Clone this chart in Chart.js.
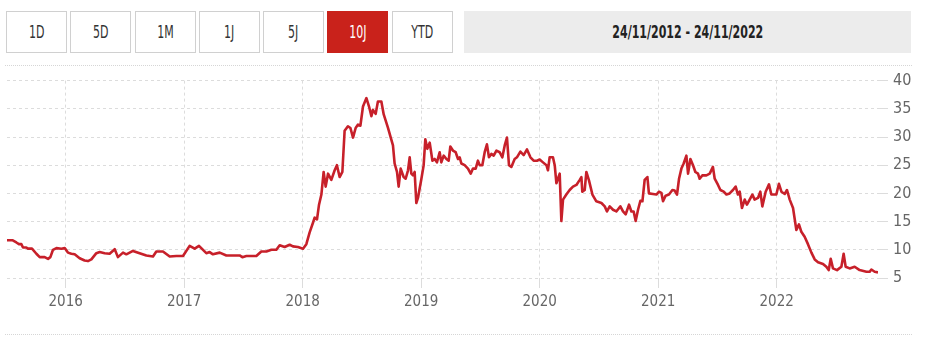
<!DOCTYPE html>
<html><head><meta charset="utf-8">
<script src="https://cdn.jsdelivr.net/npm/chart.js@4.4.0/dist/chart.umd.min.js"></script>
<style>
html,body{margin:0;padding:0;background:#fff;width:934px;height:356px;overflow:hidden;font-family:"Liberation Sans Narrow","DejaVu Sans Condensed","Roboto",sans-serif;}
.btn{position:absolute;top:11px;height:40px;width:59px;border:1px solid #d0d0d0;background:#fff;color:#333;font-size:17px;line-height:40px;text-align:center;}
.btn.on{background:#c9221b;border-color:#c9221b;color:#fff;}
.btn span,.range span{display:inline-block;transform:scaleX(0.72);}
.range{position:absolute;left:464px;top:11px;width:447px;height:42px;background:#ececec;color:#222;font-size:17px;font-weight:bold;line-height:42px;text-align:center;}
.sep{position:absolute;left:5px;width:907px;height:0;border-top:1px dotted #d6d6d6;}
#wrap{position:absolute;left:0;top:66px;width:934px;height:270px;}
</style></head>
<body>
<div class="btn" style="left:6px"><span>1D</span></div>
<div class="btn" style="left:70px"><span>5D</span></div>
<div class="btn" style="left:135px"><span>1M</span></div>
<div class="btn" style="left:199px"><span>1J</span></div>
<div class="btn" style="left:263px"><span>5J</span></div>
<div class="btn on" style="left:327px"><span>10J</span></div>
<div class="btn" style="left:392px"><span>YTD</span></div>
<div class="range"><span>24/11/2012 - 24/11/2022</span></div>
<div class="sep" style="top:65px"></div>
<div class="sep" style="top:334px"></div>
<div id="wrap"><canvas id="c"></canvas></div>
<script>
// decimal years
const dates = [2015.505,2015.550,2015.584,2015.606,2015.626,2015.640,2015.668,2015.682,2015.716,2015.753,2015.781,2015.823,2015.851,2015.871,2015.893,2015.922,2015.964,2015.992,
2016.019,2016.048,2016.076,2016.118,2016.160,2016.188,2016.217,2016.259,2016.287,2016.329,2016.371,2016.414,2016.441,2016.484,2016.512,2016.568,2016.624,2016.681,2016.737,2016.765,2016.821,2016.878,2016.934,2016.990,
2017.046,2017.089,2017.125,2017.187,2017.215,2017.243,2017.300,2017.356,2017.412,2017.468,2017.491,2017.525,2017.609,2017.651,2017.694,2017.736,2017.778,2017.806,2017.848,2017.890,2017.918,2017.960,
2018.003,2018.031,2018.059,2018.087,2018.101,2018.121,2018.138,2018.158,2018.177,2018.194,2018.214,2018.242,2018.270,2018.289,2018.312,2018.335,2018.354,2018.382,2018.403,2018.425,2018.447,2018.467,2018.487,2018.509,2018.538,2018.560,2018.580,2018.593,2018.616,2018.635,2018.664,2018.684,2018.720,2018.762,2018.776,2018.796,2018.810,2018.827,2018.852,2018.869,2018.889,2018.903,2018.917,2018.931,2018.945,2018.959,2018.973,
2019.002,2019.021,2019.035,2019.052,2019.072,2019.095,2019.114,2019.133,2019.156,2019.170,2019.190,2019.213,2019.232,2019.246,2019.268,2019.291,2019.311,2019.325,2019.339,2019.367,2019.395,2019.418,2019.437,2019.460,2019.479,2019.494,2019.516,2019.536,2019.555,2019.572,2019.592,2019.612,2019.635,2019.662,2019.685,2019.705,2019.724,2019.741,2019.761,2019.789,2019.808,2019.837,2019.865,2019.893,2019.922,2019.949,2019.977,
2020.000,2020.028,2020.057,2020.070,2020.084,2020.112,2020.127,2020.141,2020.154,2020.169,2020.183,2020.197,2020.225,2020.253,2020.281,2020.310,2020.338,2020.352,2020.360,2020.380,2020.394,2020.416,2020.445,2020.478,2020.521,2020.549,2020.568,2020.591,2020.619,2020.647,2020.681,2020.703,2020.726,2020.754,2020.774,2020.793,2020.810,2020.830,2020.850,2020.867,2020.886,2020.909,2020.922,2020.956,2020.985,
2021.007,2021.027,2021.041,2021.063,2021.091,2021.120,2021.139,2021.159,2021.176,2021.196,2021.215,2021.238,2021.252,2021.272,2021.294,2021.314,2021.336,2021.350,2021.373,2021.407,2021.435,2021.462,2021.477,2021.505,2021.525,2021.553,2021.576,2021.603,2021.631,2021.654,2021.673,2021.688,2021.707,2021.730,2021.749,2021.772,2021.795,2021.814,2021.842,2021.862,2021.879,2021.907,2021.935,2021.955,2021.997,
2022.019,2022.040,2022.068,2022.087,2022.110,2022.138,2022.166,2022.188,2022.208,2022.236,2022.264,2022.293,2022.321,2022.349,2022.391,2022.419,2022.439,2022.456,2022.475,2022.509,2022.546,2022.565,2022.582,2022.616,2022.658,2022.700,2022.757,2022.785,2022.799,2022.827,2022.855];

const prices = [11.7,11.7,11.3,11.0,11.0,10.4,10.4,10.2,10.2,9.3,8.7,8.7,8.4,8.7,10.0,10.3,10.2,10.3,
9.5,9.3,9.2,8.5,8.1,8.0,8.3,9.4,9.6,9.4,9.3,10.1,8.7,9.5,9.2,9.8,9.4,9.0,8.8,9.7,9.7,8.8,8.9,8.9,
10.7,10.2,10.7,9.4,9.6,9.2,9.5,9.0,9.0,9.0,8.7,8.9,8.9,9.7,9.7,10.0,10.0,10.8,10.5,10.9,10.6,10.5,
10.2,11.0,13.1,14.8,15.7,15.4,18.0,19.8,23.8,21.2,23.5,22.4,24.1,25.0,22.9,23.8,31.1,31.9,31.6,29.9,31.6,32.2,32.0,35.4,36.9,35.4,33.7,34.8,34.1,36.3,36.3,34.0,31.6,28.5,25.3,23.8,21.2,24.4,22.9,22.6,24.1,26.4,23.5,23.2,23.8,18.3,19.2,
22.6,25.0,29.6,27.9,29.0,25.8,26.1,25.5,27.3,25.5,26.7,26.1,25.8,28.3,27.6,27.3,26.1,26.4,25.3,25.0,24.4,23.5,24.4,24.4,25.8,25.0,25.0,27.3,28.7,26.4,27.0,26.7,27.6,27.3,26.4,28.5,29.9,25.0,24.7,26.1,26.4,27.4,26.8,27.8,26.4,25.8,25.8,
26.0,25.5,25.0,24.1,26.4,26.4,25.0,21.8,22.6,23.5,15.1,18.9,19.8,20.6,21.2,21.5,22.4,22.9,20.3,20.6,23.8,22.3,19.8,18.6,18.3,17.7,16.8,17.7,17.1,16.8,17.7,16.8,16.3,18.0,16.8,16.8,15.1,17.1,18.7,18.6,22.4,22.9,20.0,19.9,19.8,
20.3,20.1,18.6,19.6,19.8,20.6,20.5,19.8,22.6,24.4,25.3,26.7,23.5,26.1,25.0,23.8,23.5,22.6,23.2,23.2,23.5,24.7,22.6,21.5,20.6,20.3,19.8,20.0,20.6,21.2,19.8,20.3,17.4,18.9,18.0,18.9,19.8,18.9,19.2,20.3,17.7,20.3,21.6,19.8,19.8,
21.7,20.3,19.9,20.6,18.9,17.4,13.5,14.5,13.2,12.3,11.0,9.5,8.3,7.8,7.5,7.0,6.4,8.4,6.7,6.4,7.0,9.3,7.0,6.7,7.0,6.4,6.1,6.1,6.5,6.1,6.0];

const xTickYears = [2016,2017,2018,2019,2020,2021,2022];
const yTicks = [5,10,15,20,25,30,35,40];

const FONT = '"Liberation Sans Narrow","DejaVu Sans Condensed","Roboto",sans-serif';
new Chart(document.getElementById('c'), {
  type: 'line',
  data: {
    datasets: [{
      data: dates.map((d, i) => ({x: d, y: prices[i]})),
      borderColor: '#c7202a',
      borderWidth: 2.6,
      pointRadius: 0,
      tension: 0,
      borderJoinStyle: 'round',
      fill: false
    }]
  },
  options: {
    responsive: true,
    maintainAspectRatio: false,
    animation: false,
    layout: {padding: {left: 7, top: 11, right: 0, bottom: 0}},
    plugins: {legend: {display: false}, tooltip: {enabled: false}},
    scales: {
      x: {
        type: 'linear',
        position: 'bottom',
        min: dates[0],
        max: dates[dates.length - 1],
        afterBuildTicks: s => { s.ticks = xTickYears.map(v => ({value: v})); },
        afterFit: s => { s.height = 58; },
        grid: {color: '#dcdcdc', tickLength: 10, tickColor: '#dcdcdc'},
        border: {display: false, dash: [3, 3]},
        ticks: {color: '#666', font: {family: FONT, size: 15}, padding: 5, maxRotation: 0, autoSkip: false,
          callback: v => String(v)}
      },
      y: {
        position: 'right',
        min: yTicks[0],
        max: yTicks[yTicks.length - 1],
        afterBuildTicks: s => { s.ticks = yTicks.map(v => ({value: v})); },
        afterFit: s => { s.width = 56; },
        grid: {color: '#dcdcdc', tickLength: 10, tickColor: '#dcdcdc'},
        border: {display: false, dash: [3, 3]},
        ticks: {color: '#666', font: {family: FONT, size: 16}, padding: 5, callback: v => String(v)}
      }
    }
  }
});
</script>
</body></html>
